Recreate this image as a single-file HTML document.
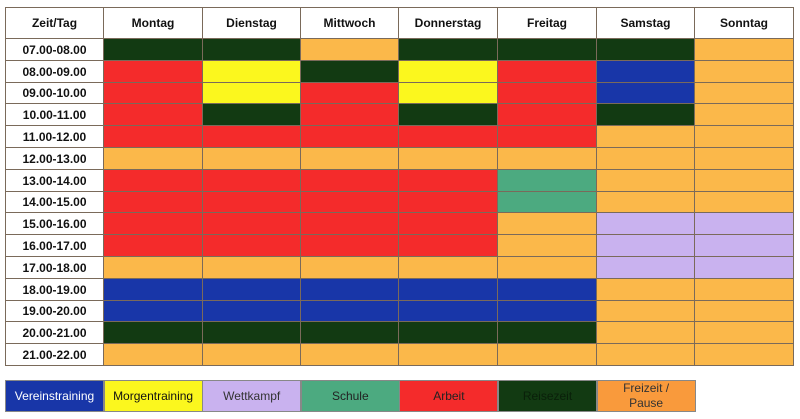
<!DOCTYPE html><html><head><style>
body{margin:0;width:800px;height:419px;background:#fff;font-family:"Liberation Sans",sans-serif;position:relative;overflow:hidden}
.c{position:absolute;box-sizing:border-box;border:1px solid #7a6a5a;display:flex;align-items:center;justify-content:center;font-weight:bold;font-size:12px;color:#111}
.l{position:absolute;box-sizing:border-box;border:1px solid #888;display:flex;align-items:center;justify-content:center;font-size:12px;text-align:center;line-height:15px;top:380px;height:32px}
</style></head><body>
<div id="t"></div>
<script>
var xs=[5,103,202,300,398,497,596,694,793];
var ys=[7,38];for(var i=1;i<=15;i++)ys.push(Math.round(38+i*21.8));
var C={R:"#f42b2b",Y:"#fbf71e",G:"#123a12",O:"#fbb84a",B:"#1836a8",L:"#c9b2ef",S:"#4caa80"};
var H=["Zeit/Tag","Montag","Dienstag","Mittwoch","Donnerstag","Freitag","Samstag","Sonntag"];
var D=["GGOGGGO","RYGYRBO","RYRYRBO","RGRGRGO","RRRRROO","OOOOOOO","RRRRSOO","RRRRSOO","RRRROLL","RRRROLL","OOOOOLL","BBBBBOO","BBBBBOO","GGGGGOO","OOOOOOO"];
var h="";
for(var c=0;c<8;c++)h+='<div class="c" style="left:'+xs[c]+'px;top:7px;width:'+(xs[c+1]-xs[c]+1)+'px;height:32px;background:#fff">'+H[c]+'</div>';
for(var r=0;r<15;r++){var y=ys[r+1],hh=ys[r+2]-y+1;var a=7+r,b=8+r;
h+='<div class="c" style="left:5px;top:'+y+'px;width:99px;height:'+hh+'px;background:#fff">'+(a<10?"0":"")+a+'.00-'+(b<10?"0":"")+b+'.00</div>';
for(var c=0;c<7;c++)h+='<div class="c" style="left:'+xs[c+1]+'px;top:'+y+'px;width:'+(xs[c+2]-xs[c+1]+1)+'px;height:'+hh+'px;background:'+C[D[r][c]]+'"></div>';}
var L=[["Vereinstraining","#1836a8","#fff"],["Morgentraining","#fbf71e","#111"],["Wettkampf","#c9b2ef","#333"],["Schule","#4caa80","#222"],["Arbeit","#f42b2b","#222"],["Reisezeit","#123a12","#0a200a"],["Freizeit /<br>Pause","#f99a3c","#333"]];
for(var i=0;i<7;i++)h+='<div class="l" style="left:'+(5+i*98.6)+'px;width:99px;background:'+L[i][1]+';color:'+L[i][2]+'">'+L[i][0]+'</div>';
document.getElementById("t").innerHTML=h;
</script>
</body></html>
